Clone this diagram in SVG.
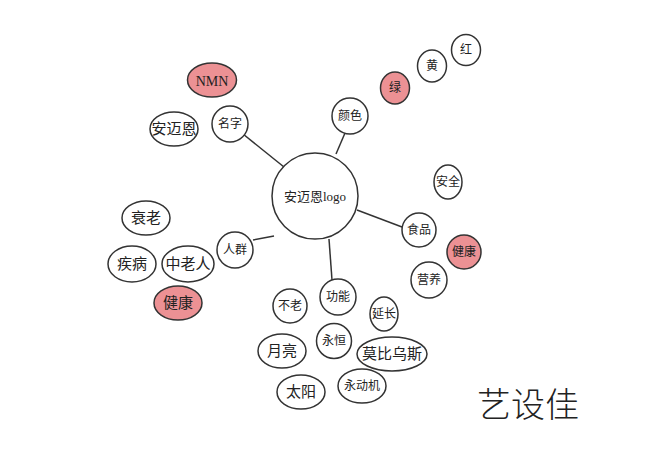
<svg xmlns="http://www.w3.org/2000/svg" width="665" height="452" viewBox="0 0 665 452">
<style>
.n{fill:#fff;stroke:#333;stroke-width:1.5}
.p{fill:#ec9194;stroke:#333;stroke-width:1.5}
.l{stroke:#333;stroke-width:1.5;fill:none}
text{font-family:"Liberation Serif","Noto Sans CJK SC",serif;fill:#222;text-anchor:middle;dominant-baseline:central}
.s{font-size:12px}
.m{font-size:15px}
</style>
<rect width="665" height="452" fill="#fff"/>
<g id="connectors">
<line class="l" x1="243" y1="134" x2="284" y2="167"/>
<line class="l" x1="345" y1="133" x2="336" y2="154"/>
<line class="l" x1="357" y1="210" x2="402" y2="227"/>
<line class="l" x1="253" y1="240" x2="274" y2="236"/>
<line class="l" x1="329" y1="239" x2="332" y2="280"/>
</g>
<g id="center"><circle class="n" cx="315" cy="196" r="43"/><text x="315" y="196" style="font-size:13px">安迈恩logo</text></g>
<g id="nmn"><ellipse class="p" cx="212" cy="80" rx="24.5" ry="17"/><text x="212" y="81" style="font-size:14px">NMN</text></g>
<g id="anmaien"><ellipse class="n" cx="174" cy="129" rx="24" ry="17"/><text class="m" x="174" y="129">安迈恩</text></g>
<g id="mingzi"><circle class="n" cx="230" cy="124" r="18"/><text class="s" x="230" y="124">名字</text></g>
<g id="yanse"><circle class="n" cx="350" cy="116" r="18"/><text class="s" x="350" y="116">颜色</text></g>
<g id="lv"><ellipse class="p" cx="395" cy="88" rx="14.5" ry="16"/><text class="s" x="395" y="88">绿</text></g>
<g id="huang"><ellipse class="n" cx="432" cy="66" rx="14.5" ry="16"/><text class="s" x="432" y="66">黄</text></g>
<g id="hong"><ellipse class="n" cx="466" cy="50" rx="14.5" ry="15.5"/><text class="s" x="466" y="50">红</text></g>
<g id="anquan"><ellipse class="n" cx="448" cy="182" rx="14" ry="17"/><text class="s" x="448" y="182">安全</text></g>
<g id="shipin"><circle class="n" cx="419" cy="230" r="17"/><text class="s" x="419" y="230">食品</text></g>
<g id="jiankang-r"><circle class="p" cx="464" cy="252" r="17"/><text class="s" x="464" y="252">健康</text></g>
<g id="yingyang"><circle class="n" cx="429" cy="280" r="18"/><text class="s" x="429" y="280">营养</text></g>
<g id="shuailao"><ellipse class="n" cx="146" cy="218" rx="24" ry="17"/><text class="m" x="146" y="218">衰老</text></g>
<g id="jibing"><ellipse class="n" cx="132" cy="264" rx="24" ry="18"/><text class="m" x="132" y="264">疾病</text></g>
<g id="zhonglaoren"><ellipse class="n" cx="188" cy="264" rx="26" ry="18"/><text class="m" x="188" y="264">中老人</text></g>
<g id="renqun"><circle class="n" cx="235" cy="250" r="18"/><text class="s" x="235" y="250">人群</text></g>
<g id="jiankang-l"><ellipse class="p" cx="178" cy="303" rx="24" ry="17"/><text class="m" x="178" y="303">健康</text></g>
<g id="bulao"><circle class="n" cx="290" cy="306" r="17"/><text class="s" x="290" y="306">不老</text></g>
<g id="gongneng"><circle class="n" cx="338" cy="297" r="18"/><text class="s" x="338" y="297">功能</text></g>
<g id="yanchang"><ellipse class="n" cx="384" cy="314" rx="14" ry="17"/><text class="s" x="384" y="314">延长</text></g>
<g id="yueliang"><ellipse class="n" cx="282" cy="351" rx="24" ry="17"/><text class="m" x="282" y="351">月亮</text></g>
<g id="yongheng"><circle class="n" cx="334" cy="341" r="17.5"/><text class="s" x="334" y="341">永恒</text></g>
<g id="mobiusi"><ellipse class="n" cx="392" cy="354" rx="35" ry="17"/><text class="m" x="392" y="354">莫比乌斯</text></g>
<g id="taiyang"><ellipse class="n" cx="301" cy="392" rx="24" ry="17"/><text class="m" x="301" y="392">太阳</text></g>
<g id="yongdongji"><ellipse class="n" cx="362" cy="386" rx="24" ry="17"/><text class="s" x="362" y="386">永动机</text></g>
<text x="528" y="402" style="font-size:34px;font-family:'Noto Sans CJK SC',sans-serif;font-weight:300">艺设佳</text>
</svg>
